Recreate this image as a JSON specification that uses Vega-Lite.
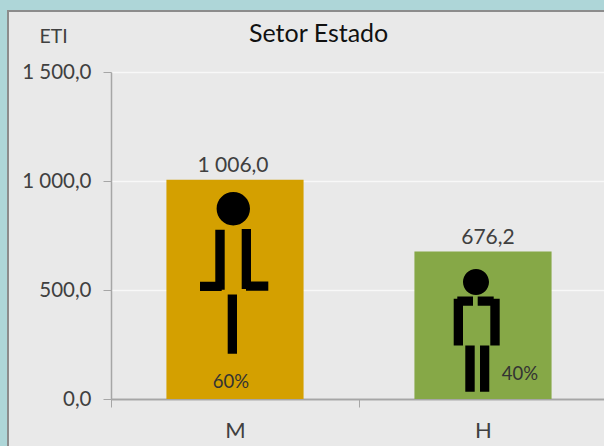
{
"$schema":"https://vega.github.io/schema/vega-lite/v6.json",
"width":598,"height":437,
"autosize":"none",
"padding":{"left":8,"top":11,"right":0,"bottom":0},
"background":"#aed6d8",
"title":{"text":"Setor Estado","anchor":"start","frame":"group","offset":-36,"dx":241,"fontSize":25,"fontWeight":"normal","font":"Lato","color":"#111111"},
"config":{"view":{"fill":"#e9e9e9","stroke":"#8c8c8c","strokeWidth":2}},
"data":{"values":[
{"sexo":"M","eti":1006.0,"rotulo":"1 006,0","pct":"60%"},
{"sexo":"H","eti":676.2,"rotulo":"676,2","pct":"40%"}
]},
"encoding":{
"x":{"field":"sexo","type":"nominal","sort":["M","H"],
 "scale":{"range":[103,599],"paddingInner":0,"paddingOuter":0},
 "axis":{"title":null,"labelAngle":0,"offset":-49,"domainColor":"#a6a6a6","domainWidth":2,"tickColor":"#a6a6a6","tickSize":8,"tickBand":"extent","labelFont":"Lato","labelFontSize":22,"labelColor":"#404040","labelPadding":13,"grid":false}},
"y":{"field":"eti","type":"quantitative",
 "scale":{"domain":[0,1500],"range":[388,61],"nice":false},
 "axis":{"title":"ETI","titleAngle":0,"titleX":-58,"titleY":25,"titleBaseline":"middle","titleFont":"Lato","titleFontSize":19.5,"titleFontWeight":"normal","titleColor":"#404040","titleAlign":"center","values":[0,500,1000,1500],"offset":-103,"labelExpr":"replace(replace(format(datum.value,',.1f'),',',' '),'.',',')","labelFont":"Lato","labelFontSize":20.5,"labelColor":"#404040","labelPadding":12,"domainColor":"#a6a6a6","domainWidth":1.5,"tickColor":"#a6a6a6","tickSize":8,"grid":true,"gridColor":"#f8f8f8","gridWidth":1.5}}
},
"layer":[
{"mark":{"type":"bar","width":{"band":0.553}},"encoding":{"color":{"field":"sexo","type":"nominal","legend":null,"scale":{"domain":["M","H"],"range":["#d4a000","#86a847"]}}}},
{"mark":{"type":"point","filled":true,"size":4,"opacity":1,"color":"#000000"},
 "encoding":{"shape":{"field":"sexo","type":"nominal","legend":null,"scale":{"domain":["M","H"],"range":[
 "M-18.4 29A16.7 16.7 0 1 1 15 29A16.7 16.7 0 1 1 -18.4 29ZM-19.7 50H-10.3V110H-19.7ZM-35 102H-13.3V111.3H-35ZM6.7 49.3H16V109.3H6.7ZM11 101.7H33.3V111H11ZM-7.3 114.7H2V174H-7.3Z",
 "M-20 30.5A13 13 0 1 1 6 30.5A13 13 0 1 1 -20 30.5ZM-29.3 47.1H-20V93.8H-29.3ZM-25.7 44.8H-10V54.1H-25.7ZM7.3 47.1H16.7V93.8H7.3ZM-5.3 44.8H10.7V54.1H-5.3ZM-17.7 93.8H-8.3V140.1H-17.7ZM-3 93.8H6.3V140.1H-3Z"]}}}},
{"transform":[{"filter":"datum.sexo==='M'"}],"mark":{"type":"text","baseline":"bottom","dy":-4,"dx":-2,"font":"Lato","fontSize":21,"color":"#404040"},"encoding":{"text":{"field":"rotulo"}}},
{"transform":[{"filter":"datum.sexo==='H'"}],"mark":{"type":"text","baseline":"bottom","dy":-4,"dx":5,"font":"Lato","fontSize":21,"color":"#404040"},"encoding":{"text":{"field":"rotulo"}}},
{"transform":[{"filter":"datum.sexo==='M'"}],"mark":{"type":"text","dx":-4,"font":"Lato","fontSize":18.5,"color":"#333333"},"encoding":{"y":{"datum":78},"text":{"field":"pct"}}},
{"transform":[{"filter":"datum.sexo==='H'"}],"mark":{"type":"text","dx":37,"font":"Lato","fontSize":18.5,"color":"#333333"},"encoding":{"y":{"datum":115},"text":{"field":"pct"}}}
]
}
